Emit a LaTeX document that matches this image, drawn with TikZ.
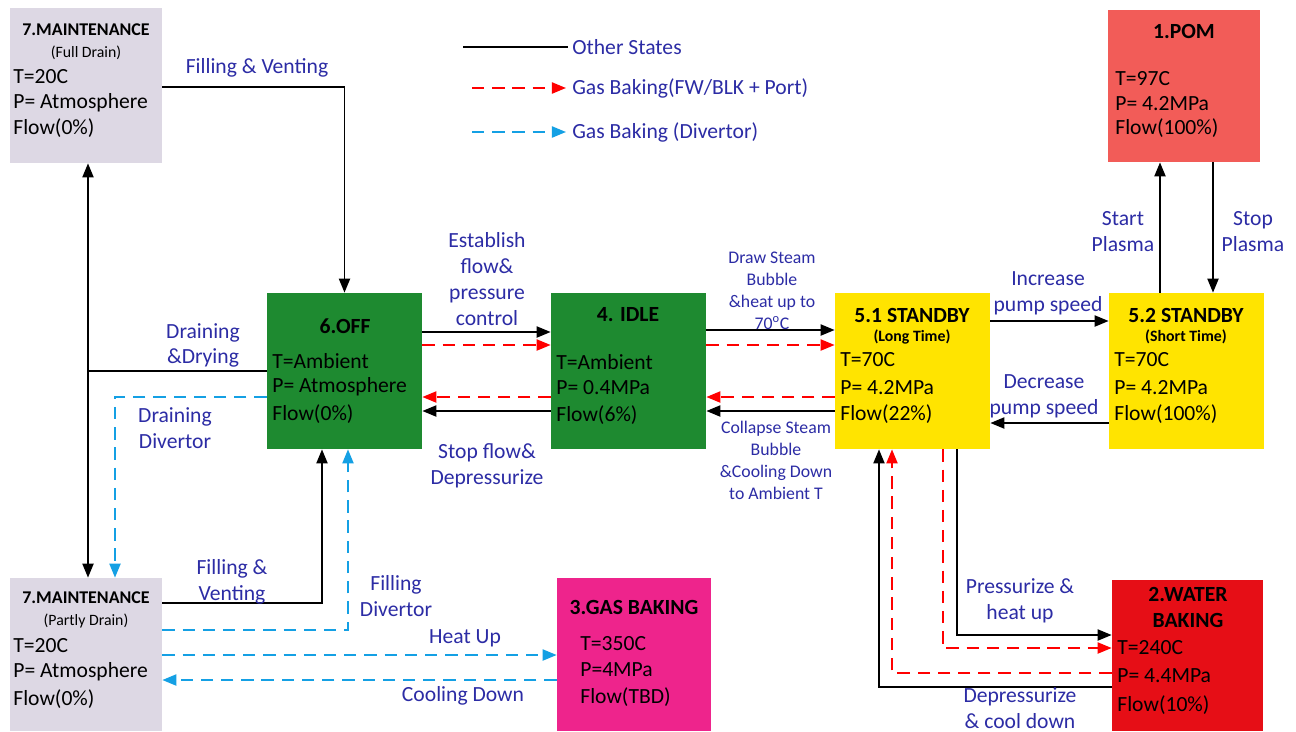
\documentclass[tikz,border=0pt]{standalone}
\usepackage{fontspec}
\setmainfont{Carlito}
\usetikzlibrary{arrows.meta}
\definecolor{mgray}{RGB}{221,216,228}
\definecolor{pomred}{RGB}{242,92,88}
\definecolor{offgreen}{RGB}{30,138,48}
\definecolor{sbyellow}{RGB}{255,228,0}
\definecolor{gasmag}{RGB}{238,36,140}
\definecolor{wbred}{RGB}{230,14,22}
\definecolor{lblue}{RGB}{44,44,165}
\definecolor{dblue}{RGB}{20,160,228}
\definecolor{dred}{RGB}{255,0,0}
\begin{document}
\begin{tikzpicture}[x=0.02cm,y=-0.02cm,
  bx/.style n args={3}{rectangle, draw=none, fill=#3, inner sep=0pt, minimum width=#1*0.02cm, minimum height=#2*0.02cm},
  ttl/.style={font=\fontsize{12.3}{14.7}\selectfont\bfseries, inner sep=0pt, align=center},
  mttl/.style={font=\fontsize{10.2}{12}\selectfont\bfseries, inner sep=0pt},
  sub/.style={font=\fontsize{9}{11}\selectfont, inner sep=0pt},
  subb/.style={font=\fontsize{9}{11}\selectfont\bfseries, inner sep=0pt},
  bd/.style={font=\fontsize{12.3}{14.7}\selectfont, anchor=west, inner sep=0pt},
  lbl/.style={font=\fontsize{12.3}{14.7}\selectfont, text=lblue, align=center, inner sep=0pt},
  slbl/.style={font=\fontsize{10.1}{12.5}\selectfont, text=lblue, align=center, inner sep=0pt},
  tip/.style={-{Triangle[length=8pt,width=6.3pt]}},
  blk/.style={draw=black, line width=1.1pt},
  rdash/.style={draw=dred, line width=1.1pt, dash pattern=on 7pt off 4.5pt},
  bdash/.style={draw=dblue, line width=1.1pt, dash pattern=on 7pt off 4.5pt}
]
\useasboundingbox (0,0) rectangle (1296,731);
\fill[white] (0,0) rectangle (1296,731);

% boxes
\node[bx={152}{155}{mgray}] (m1) at (86,85.5) {};
\node[bx={152}{152}{pomred}] (pom) at (1184,86) {};
\node[bx={155}{156}{offgreen}] (off) at (344.5,371) {};
\node[bx={155}{156}{offgreen}] (idle) at (628.5,371) {};
\node[bx={155}{156}{sbyellow}] (sb1) at (912.5,371) {};
\node[bx={155}{156}{sbyellow}] (sb2) at (1186.5,371) {};
\node[bx={152}{153}{mgray}] (m2) at (86,654.5) {};
\node[bx={154}{153}{gasmag}] (gas) at (634,654.5) {};
\node[bx={151}{151}{wbred}] (wb) at (1187.5,655.5) {};

% box texts
\node[mttl] (m1t) at (86,30) {7.MAINTENANCE};
\node[sub] (m1s) at (86,53) {(Full Drain)};
\node[bd] (m1a) at (13,77) {T=20C};
\node[bd] (m1b) at (13,103) {P= Atmosphere};
\node[bd] (m1c) at (13,128) {Flow(0\%)};

\node[ttl] (pomt) at (1184,31) {1.POM};
\node[bd] (poma) at (1115,79) {T=97C};
\node[bd] (pomb) at (1115,104) {P= 4.2MPa};
\node[bd] (pomc) at (1115,128) {Flow(100\%)};

\node[ttl] (offt) at (345,326) {6.OFF};
\node[bd] (offa) at (272,361) {T=Ambient};
\node[bd] (offb) at (272,387) {P= Atmosphere};
\node[bd] (offc) at (272,414) {Flow(0\%)};

\node[ttl] (idlet) at (628,315) {4. IDLE};
\node[bd] (idlea) at (556,362) {T=Ambient};
\node[bd] (idleb) at (556,388) {P= 0.4MPa};
\node[bd] (idlec) at (556,415) {Flow(6\%)};

\node[ttl] (sb1t) at (912,315) {5.1 STANDBY};
\node[subb] (sb1s) at (912,337) {(Long Time)};
\node[bd] (sb1a) at (840,360) {T=70C};
\node[bd] (sb1b) at (840,388) {P= 4.2MPa};
\node[bd] (sb1c) at (840,414) {Flow(22\%)};

\node[ttl] (sb2t) at (1186,315) {5.2 STANDBY};
\node[subb] (sb2s) at (1186,337) {(Short Time)};
\node[bd] (sb2a) at (1114,360) {T=70C};
\node[bd] (sb2b) at (1114,388) {P= 4.2MPa};
\node[bd] (sb2c) at (1114,414) {Flow(100\%)};

\node[mttl] (m2t) at (86,598) {7.MAINTENANCE};
\node[sub] (m2s) at (86,621) {(Partly Drain)};
\node[bd] (m2a) at (13,646) {T=20C};
\node[bd] (m2b) at (13,672) {P= Atmosphere};
\node[bd] (m2c) at (13,699) {Flow(0\%)};

\node[ttl] (gast) at (634,607) {3.GAS BAKING};
\node[bd] (gasa) at (580,644) {T=350C};
\node[bd] (gasb) at (580,670) {P=4MPa};
\node[bd] (gasc) at (580,697) {Flow(TBD)};

\node[ttl] (wbt) at (1188,607.5) {2.WATER\\BAKING};
\node[bd] (wba) at (1117,648) {T=240C};
\node[bd] (wbb) at (1117,676) {P= 4.4MPa};
\node[bd] (wbc) at (1117,705) {Flow(10\%)};

% legend
\coordinate (lg1a) at (463,47); \coordinate (lg1b) at (568,47);
\coordinate (lg2a) at (472,88); \coordinate (lg2b) at (566,88);
\coordinate (lg3a) at (472,132); \coordinate (lg3b) at (566,132);
\draw[blk] (lg1a) -- (lg1b);
\draw[rdash,tip] (lg2a) -- (lg2b);
\draw[bdash,tip] (lg3a) -- (lg3b);
\node[lbl, anchor=west] (lgt1) at (572,47) {Other States};
\node[lbl, anchor=west] (lgt2) at (572,88) {Gas Baking(FW/BLK + Port)};
\node[lbl, anchor=west] (lgt3) at (572,132) {Gas Baking (Divertor)};

% left side
\draw[blk,tip] (m1.east |- 0,87) -| (off.north);
\draw[blk,{Triangle[length=8pt,width=6.3pt]}-{Triangle[length=8pt,width=6.3pt]}] (m1.south -| 88,0) -- (m2.north -| 88,0);
\coordinate (vj) at (88,371);
\draw[blk] (off.west |- 0,371) -- (vj);
\draw[bdash,tip] (off.west |- 0,397) -| (m2.north -| 115,0);
\draw[blk,tip] (m2.east |- 0,603) -| (off.south -| 322,0);
\draw[bdash,tip] (m2.east |- 0,630) -| (off.south -| 348,0);
\draw[bdash,tip] (m2.east |- 0,655) -- (gas.west |- 0,655);
\draw[bdash,tip] (gas.west |- 0,680) -- (m2.east |- 0,680);

% off <-> idle
\draw[blk,tip] (off.east |- 0,332) -- (idle.west |- 0,332);
\draw[rdash,tip] (off.east |- 0,345) -- (idle.west |- 0,345);
\draw[rdash,tip] (idle.west |- 0,397) -- (off.east |- 0,397);
\draw[blk,tip] (idle.west |- 0,411) -- (off.east |- 0,411);

% idle <-> sb1
\draw[blk,tip] (idle.east |- 0,330) -- (sb1.west |- 0,330);
\draw[rdash,tip] (idle.east |- 0,345) -- (sb1.west |- 0,345);
\draw[rdash,tip] (sb1.west |- 0,397) -- (idle.east |- 0,397);
\draw[blk,tip] (sb1.west |- 0,411) -- (idle.east |- 0,411);

% sb1 <-> sb2
\draw[blk,tip] (sb1.east |- 0,321) -- (sb2.west |- 0,321);
\draw[blk,tip] (sb2.west |- 0,423) -- (sb1.east |- 0,423);

% sb2 <-> pom
\draw[blk,tip] (sb2.north -| 1160,0) -- (pom.south -| 1160,0);
\draw[blk,tip] (pom.south -| 1213,0) -- (sb2.north -| 1213,0);

% sb1 <-> water baking
\draw[blk,tip] (sb1.south -| 957,0) |- (wb.west |- 0,635);
\draw[rdash,tip] (sb1.south -| 943,0) |- (wb.west |- 0,648);
\draw[rdash,tip] (wb.west |- 0,673) -| (sb1.south -| 892,0);
\draw[blk,tip] (wb.west |- 0,687) -| (sb1.south -| 879,0);

% labels
\node[lbl] (l1) at (257,68) {Filling \& Venting};
\node[lbl] (l2) at (487,279) {Establish\\flow\&\\pressure\\control};
\node[lbl] (l3) at (487,466) {Stop flow\&\\Depressurize};
\node[lbl] (l4) at (203,345.5) {Draining\\\&Drying};
\node[lbl] (l5) at (175,428.5) {Draining\\Divertor};
\node[slbl] (l6) at (772,290.5) {Draw Steam\\Bubble\\\&heat up to\\70\textsuperscript{o}C};
\node[slbl] (l7) at (776,460.5) {Collapse Steam\\Bubble\\\&Cooling Down\\to Ambient T};
\node[lbl] (l8) at (1048,293.5) {Increase\\pump speed};
\node[lbl] (l9) at (1044,396.5) {Decrease\\pump speed};
\node[lbl] (l10) at (1123,231.5) {Start\\Plasma};
\node[lbl] (l11) at (1253,231.5) {Stop\\Plasma};
\node[lbl] (l12) at (1020,601) {Pressurize \&\\heat up};
\node[lbl] (l13) at (1020,708) {Depressurize\\\& cool down};
\node[lbl] (l14) at (232,582) {Filling \&\\Venting};
\node[lbl] (l15) at (396,596) {Filling\\Divertor};
\node[lbl] (l16) at (465,638) {Heat Up};
\node[lbl] (l17) at (463,696) {Cooling Down};
\end{tikzpicture}
\end{document}
